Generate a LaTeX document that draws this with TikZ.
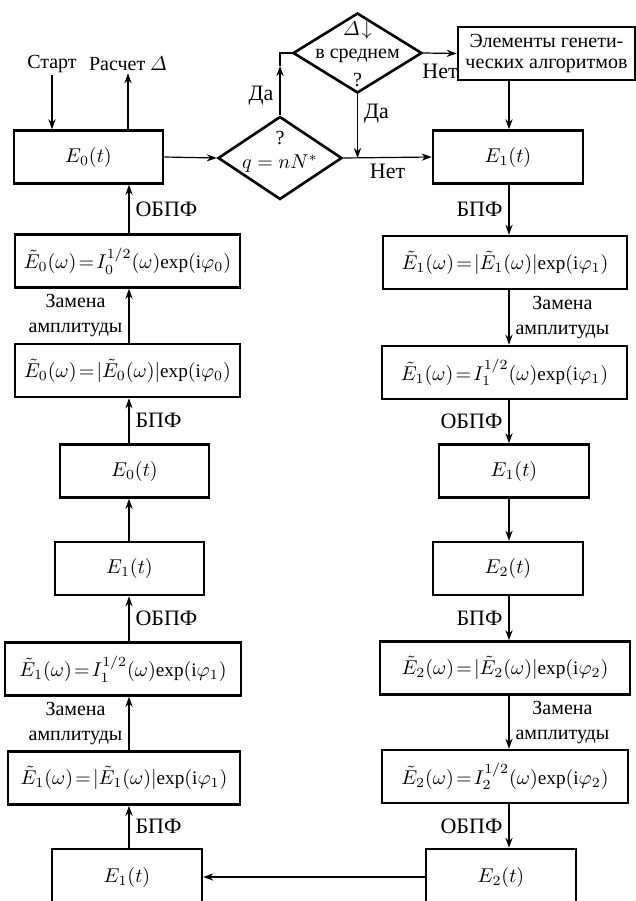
\documentclass[tikz,border=0pt]{standalone}
\usepackage{fontspec}
\setmainfont{Liberation Serif}
\usetikzlibrary{positioning}
\usetikzlibrary{arrows.meta,shapes.geometric}
\tikzstyle{block}=[draw,line width=1.3pt,minimum height=26.5pt,inner sep=1pt,font=\fontsize{9.6}{11.5}\selectfont]
\tikzstyle{decision}=[diamond,draw,line width=1.3pt,inner sep=0pt]
\tikzstyle{flow}=[draw,line width=0.6pt,-{Stealth[length=5pt,width=3.6pt]}]
\tikzstyle{plainline}=[draw,line width=0.6pt]
\tikzstyle{tlabel}=[font=\fontsize{11}{13}\selectfont,inner sep=3pt]
\tikzstyle{note}=[align=center,inner sep=1pt,font=\fontsize{10}{12.5}\selectfont]
\newcommand{\eqs}{\!=\!}
\newcommand{\expo}{\mathrm{exp}}

\begin{document}
\begin{tikzpicture}[x=0.5pt,y=-0.5pt]
\useasboundingbox (0,0) rectangle (636,901);
\coordinate (colL) at (129,0);
\coordinate (colR) at (509,0);

% left column (upwards)
\foreach \pos/\name/\bw/\txt in {
  {(88.5,157)/eLt0/74.5pt/{$E_0(t)$}},
  {(127.5,261)/eLw0i/112.5pt/{$\tilde{E}_0(\omega) \eqs I_0^{1/2}(\omega)\expo(\mathrm{i}\varphi_0)$}},
  {(127.5,370.5)/eLw0a/112.5pt/{$\tilde{E}_0(\omega) \eqs |\tilde{E}_0(\omega)|\expo(\mathrm{i}\varphi_0)$}},
  {(134.5,471)/eLt0b/74.5pt/{$E_0(t)$}},
  {(129.5,568.5)/eLt1/74.5pt/{$E_1(t)$}},
  {(123,669)/eLw1i/118pt/{$\tilde{E}_1(\omega) \eqs I_1^{1/2}(\omega)\expo(\mathrm{i}\varphi_1)$}},
  {(124,778)/eLw1a/116pt/{$\tilde{E}_1(\omega) \eqs |\tilde{E}_1(\omega)|\expo(\mathrm{i}\varphi_1)$}}}
  \node[block,minimum width=\bw] (\name) at \pos {\txt};
\node[block,minimum width=75pt,minimum height=28pt] (eLt1b) at (127,877) {$E_1(t)$};

% right column (downwards)
\foreach \pos/\name/\bw/\txt in {
  {(508,157)/eRt1/75pt/{$E_1(t)$}},
  {(505,262.5)/eRw1a/122pt/{$\tilde{E}_1(\omega) \eqs |\tilde{E}_1(\omega)|\expo(\mathrm{i}\varphi_1)$}},
  {(504.5,372.5)/eRw1i/122.5pt/{$\tilde{E}_1(\omega) \eqs I_1^{1/2}(\omega)\expo(\mathrm{i}\varphi_1)$}},
  {(514,471)/eRt1b/75pt/{$E_1(t)$}},
  {(508,568.5)/eRt2/75pt/{$E_2(t)$}},
  {(505,668)/eRw2a/125pt/{$\tilde{E}_2(\omega) \eqs |\tilde{E}_2(\omega)|\expo(\mathrm{i}\varphi_2)$}},
  {(505,776.5)/eRw2i/123pt/{$\tilde{E}_2(\omega) \eqs I_2^{1/2}(\omega)\expo(\mathrm{i}\varphi_2)$}}}
  \node[block,minimum width=\bw] (\name) at \pos {\txt};
\node[block,minimum width=75pt,minimum height=28pt] (eRt2b) at (501,877) {$E_2(t)$};

% tests and genetic step
\node[decision,minimum width=62pt,minimum height=41.5pt] (qtest) at (280,158) {};
\node[decision,minimum width=64.5pt,minimum height=40pt] (dtest) at (357.5,53) {};
\node[note] (qmark) at (280,138) {?};
\node[note] (qeq) at (280,164) {$q = nN^{*}$};
\node[note] (dsym) at (357.5,30) {$\mathnormal{\Delta}\!\downarrow$};
\node[note] (dmid) at (357.5,56) {в среднем};
\node[note] (dmark) at (357.5,80) {?};
\node[block,minimum width=88.5pt,align=center,inner sep=1pt,font=\fontsize{10}{10.5}\selectfont] (gen) at (546.5,53.5) {Элементы генети-\\ческих алгоритмов};

\node[note] (start) at (52,64) {Старт};
\node[note] (calcd) at (128,64) {Расчет $\mathnormal{\Delta}$};
\coordinate (yesup) at (280,66);

\draw[flow] (start.south) -- (start.south |- eLt0.north);
\draw[flow] (calcd.south |- eLt0.north) -- (calcd.south);
\draw[flow] (eLt0.east) -- (qtest.west);
\draw[flow] (qtest.north) -- node[tlabel,left,pos=0.4] {Да} (yesup);
\draw[plainline] (yesup) |- (dtest.west);
\draw[flow] (dtest.east) -- node[tlabel,below,inner sep=5pt] {Нет} (gen.west);
\draw[flow] (dtest.south) -- node[tlabel,right,pos=0.3] {Да} (dtest.south |- qtest.east);
\draw[flow] (qtest.east) -- node[tlabel,below] {Нет} (eRt1.west);
\draw[flow] (gen.south -| colR) -- (eRt1.north -| colR);

% left arrows
\foreach \src/\dst/\txt in {eLt1b/eLw1a/БПФ, eLw1i/eLt1/ОБПФ, eLt0b/eLw0a/БПФ, eLw0i/eLt0/ОБПФ}
  \draw[flow] (\src.north -| colL) -- node[tlabel,right] {\txt} (\dst.south -| colL);
\foreach \src/\dst in {eLw1a/eLw1i, eLw0a/eLw0i}
  \draw[flow] (\src.north -| colL) -- node[note,left,inner sep=3pt] {Замена\\амплитуды} (\dst.south -| colL);
\draw[flow] (eLt1.north -| colL) -- (eLt0b.south -| colL);

% right arrows
\foreach \src/\dst/\txt in {eRt1/eRw1a/БПФ, eRw1i/eRt1b/ОБПФ, eRt2/eRw2a/БПФ, eRw2i/eRt2b/ОБПФ}
  \draw[flow] (\src.south -| colR) -- node[tlabel,left] {\txt} (\dst.north -| colR);
\foreach \src/\dst in {eRw1a/eRw1i, eRw2a/eRw2i}
  \draw[flow] (\src.south -| colR) -- node[note,right,inner sep=3pt] {Замена\\амплитуды} (\dst.north -| colR);
\draw[flow] (eRt1b.south -| colR) -- (eRt2.north -| colR);
\draw[flow] (eRt2b.west) -- (eLt1b.east);
\end{tikzpicture}
\end{document}
